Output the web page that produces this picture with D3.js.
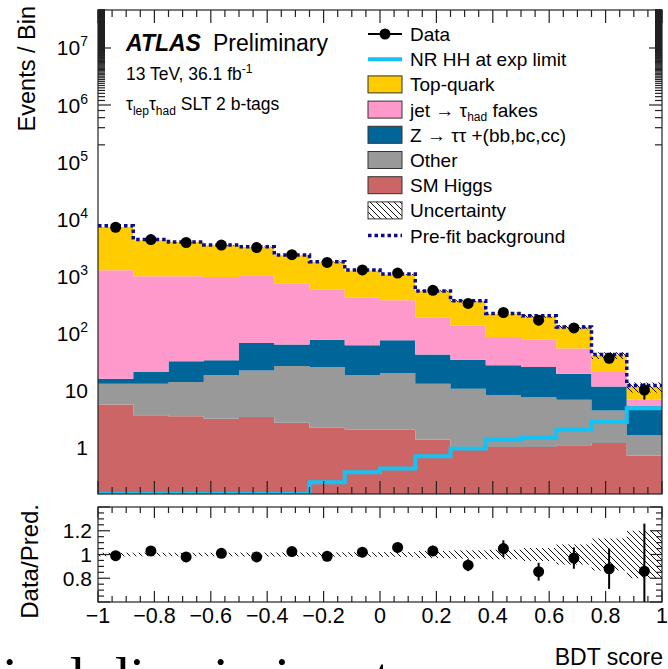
<!DOCTYPE html>
<html>
<head>
<meta charset="utf-8">
<script src="https://cdn.jsdelivr.net/npm/d3@7"></script>
<style>
body { margin: 0; background: #fff; }
svg { display: block; font-family: "Liberation Sans", Arial, Helvetica, sans-serif; }
</style>
</head>
<body>
<div class="chart"></div>
<script>
// bin edges of the BDT score histogram
const binEdges = [-1, -0.875, -0.75, -0.625, -0.5, -0.375, -0.25, -0.125, 0, 0.125, 0.25, 0.375, 0.5, 0.625, 0.75, 0.875, 1]

// backgrounds (stacked, bottom first)
const smHiggs = [5.6, 3.6, 3.45, 3.14, 3.36, 2.67, 2.18, 2.01, 2.01, 1.35, 1.03, 1.0, 1.0, 1.07, 1.18, 0.71]
const other = [7.3, 9.3, 10.4, 15.0, 18.7, 23.7, 23.1, 16.1, 17.9, 11.5, 9.5, 7.1, 6.5, 5.7, 3.2, 0.9]
const zttHF = [2.9, 7.8, 18.0, 15.0, 44.7, 36.8, 51.1, 42.7, 54.4, 29.3, 23.5, 19.0, 17.8, 12.6, 7.2, 3.6]
const fakes = [1243, 965, 954, 927, 961, 670, 499, 356, 300, 144, 102, 58, 51, 34, 9.1, 1.6]
const topQuark = [5985, 3240, 2962, 2491, 2200, 1574, 1187, 839, 686, 360, 228, 133, 120, 74, 19.9, 4.5]

const prefitBkg = [7600, 4350, 3950, 3500, 3250, 2330, 1780, 1270, 1080, 545, 370, 220, 200, 128, 42, 12]
const nrHH = [0.05, 0.06, 0.07, 0.08, 0.09, 0.1, 0.24, 0.36, 0.42, 0.69, 0.94, 1.35, 1.45, 2.0, 2.75, 4.8]
const bkgUnc = [0.015, 0.015, 0.015, 0.015, 0.016, 0.017, 0.018, 0.019, 0.02, 0.03, 0.035, 0.04, 0.055, 0.085, 0.135, 0.2]

const dataCounts = [7170, 4350, 3870, 3490, 3160, 2365, 1735, 1280, 1125, 562, 331, 229, 168, 123, 36, 10]
const dataErr = [85, 66, 62, 59, 56, 49, 42, 36, 34, 24, 18, 15, 13, 11, 6, 3.2]
const ratioVals = [0.99, 1.03, 0.98, 1.01, 0.98, 1.025, 0.985, 1.02, 1.06, 1.03, 0.91, 1.05, 0.855, 0.97, 0.88, 0.86]
const ratioErr = [0.012, 0.016, 0.016, 0.017, 0.018, 0.021, 0.024, 0.029, 0.032, 0.044, 0.05, 0.07, 0.075, 0.09, 0.17, 0.4]

// axes
const xTickValues = [-1, -0.8, -0.6, -0.4, -0.2, 0, 0.2, 0.4, 0.6, 0.8, 1]
const xTickLabels = ["\u22121", "\u22120.8", "\u22120.6", "\u22120.4", "\u22120.2", "0", "0.2", "0.4", "0.6", "0.8", "1"]
const yTickValues = [1, 10, 100, 1e3, 1e4, 1e5, 1e6, 1e7]
const yTickLabels = ["1", "10", "10^2", "10^3", "10^4", "10^5", "10^6", "10^7"]
const rTickValues = [0.8, 1, 1.2]
const rTickLabels = ["0.8", "1", "1.2"]

const colors = {
    smHiggs: "#cc6666",
    other: "#999999",
    ztt: "#006699",
    fakes: "#ff99cc",
    top: "#ffcc00",
    nrHH: "#12c3f3",
    prefit: "#0b0b8e"
}

let svg = d3.select(".chart")
    .append("svg")
    .attr("width", 668)
    .attr("height", 669)

let main = { left: 98, right: 662, top: 10, bottom: 494 }
let rat = { top: 507, bottom: 602 }

//scales
let x = d3.scaleLinear().domain([-1, 1]).range([main.left, main.right])
let y = d3.scaleLog().domain([0.15, 4.64e7]).range([main.bottom, main.top]).clamp(true)
let yr = d3.scaleLinear().domain([0.6, 1.4]).range([rat.bottom, rat.top])

let defs = svg.append("defs")
defs.append("clipPath").attr("id", "clipMain")
    .append("rect").attr("x", main.left).attr("y", main.top)
    .attr("width", main.right - main.left).attr("height", main.bottom - main.top)
defs.append("clipPath").attr("id", "clipRatio")
    .append("rect").attr("x", main.left).attr("y", rat.top)
    .attr("width", main.right - main.left).attr("height", rat.bottom - rat.top)
defs.append("pattern").attr("id", "hatch")
    .attr("patternUnits", "userSpaceOnUse").attr("width", 6).attr("height", 6)
    .append("path").attr("d", "M-1,-1 L7,7 M-1,5 L1,7 M5,-1 L7,1")
    .attr("stroke", "#111").attr("stroke-width", 1)

let bins = binEdges.slice(0, -1).map((lo, i) => ({
    lo: lo, hi: binEdges[i + 1], mid: (lo + binEdges[i + 1]) / 2,
    smHiggs: smHiggs[i], other: other[i], ztt: zttHF[i], fakes: fakes[i], top: topQuark[i]
}))
let keys = ["smHiggs", "other", "ztt", "fakes", "top"]
let series = d3.stack().keys(keys)(bins)
let totals = bins.map((b, i) => series[series.length - 1][i][1])

let gMain = svg.append("g").attr("clip-path", "url(#clipMain)")

// stacked histogram
let area = d3.area()
    .x(p => x(p.x))
    .y0(p => p.y0 > 0 ? y(p.y0) : main.bottom)
    .y1(p => y(p.y1))

series.forEach(s => {
    let pts = s.flatMap((d, i) => [
        { x: bins[i].lo, y0: d[0], y1: d[1] },
        { x: bins[i].hi, y0: d[0], y1: d[1] }
    ])
    gMain.append("path")
        .attr("d", area(pts))
        .attr("fill", colors[s.key])
})

// uncertainty band on the total
gMain.selectAll(".unc")
    .data(bins)
    .enter().append("rect")
    .attr("x", d => x(d.lo))
    .attr("width", d => x(d.hi) - x(d.lo))
    .attr("y", (d, i) => y(totals[i] * (1 + bkgUnc[i])))
    .attr("height", (d, i) => y(totals[i] * (1 - bkgUnc[i])) - y(totals[i] * (1 + bkgUnc[i])))
    .attr("fill", "url(#hatch)")

let stepLine = d3.line().x(p => x(p.x)).y(p => y(p.v))
let steps = vals => bins.flatMap((b, i) => [{ x: b.lo, v: vals[i] }, { x: b.hi, v: vals[i] }])

// NR HH signal
gMain.append("path")
    .attr("d", stepLine(steps(nrHH)))
    .attr("fill", "none")
    .attr("stroke", colors.nrHH)
    .attr("stroke-width", 4)

// pre-fit background
gMain.append("path")
    .attr("d", stepLine(steps(prefitBkg)))
    .attr("fill", "none")
    .attr("stroke", colors.prefit)
    .attr("stroke-width", 3.5)
    .attr("stroke-dasharray", "3.5,3")

// data
gMain.selectAll(".derr")
    .data(bins)
    .enter().append("line")
    .attr("x1", d => x(d.mid)).attr("x2", d => x(d.mid))
    .attr("y1", (d, i) => y(dataCounts[i] + dataErr[i]))
    .attr("y2", (d, i) => y(dataCounts[i] - dataErr[i]))
    .attr("stroke", "#000").attr("stroke-width", 2)
gMain.selectAll(".dpt")
    .data(bins)
    .enter().append("circle")
    .attr("cx", d => x(d.mid))
    .attr("cy", (d, i) => y(dataCounts[i]))
    .attr("r", 5.5)
    .attr("fill", "#000")

// ratio panel
let gRat = svg.append("g").attr("clip-path", "url(#clipRatio)")
gRat.selectAll(".runc")
    .data(bins)
    .enter().append("rect")
    .attr("x", d => x(d.lo))
    .attr("width", d => x(d.hi) - x(d.lo))
    .attr("y", (d, i) => yr(1 + bkgUnc[i]))
    .attr("height", (d, i) => yr(1 - bkgUnc[i]) - yr(1 + bkgUnc[i]))
    .attr("fill", "url(#hatch)")
gRat.selectAll(".rerr")
    .data(bins)
    .enter().append("line")
    .attr("x1", d => x(d.mid)).attr("x2", d => x(d.mid))
    .attr("y1", (d, i) => yr(ratioVals[i] + ratioErr[i]))
    .attr("y2", (d, i) => yr(ratioVals[i] - ratioErr[i]))
    .attr("stroke", "#000").attr("stroke-width", 2)
gRat.selectAll(".rpt")
    .data(bins)
    .enter().append("circle")
    .attr("cx", d => x(d.mid))
    .attr("cy", (d, i) => yr(ratioVals[i]))
    .attr("r", 5.5)
    .attr("fill", "#000")

// frames and ROOT style ticks
let axes = svg.append("g").attr("stroke", "#222").attr("stroke-width", 1.2)

function xTicks(top, bottom, major, minor) {
    x.ticks(40).forEach(t => {
        let isMajor = xTickValues.some(v => Math.abs(v - t) < 1e-6)
        let len = isMajor ? major : minor
        axes.append("line").attr("x1", x(t)).attr("x2", x(t)).attr("y1", bottom).attr("y2", bottom - len)
        axes.append("line").attr("x1", x(t)).attr("x2", x(t)).attr("y1", top).attr("y2", top + len)
    })
}
function yTicks(scale, ticks, majors, major, minor) {
    ticks.forEach(t => {
        let isMajor = majors.some(v => Math.abs(v - t) / t < 1e-6)
        let len = isMajor ? major : minor
        let py = scale(t)
        axes.append("line").attr("x1", main.left).attr("x2", main.left + len).attr("y1", py).attr("y2", py)
        axes.append("line").attr("x1", main.right).attr("x2", main.right - len).attr("y1", py).attr("y2", py)
    })
}

xTicks(main.top, main.bottom, 13, 7)
yTicks(y, y.ticks(200).filter(t => t >= 0.15 && t <= 4.64e7), yTickValues, 13, 7)
xTicks(rat.top, rat.bottom, 11, 6)
yTicks(yr, yr.ticks(16), [0.6, 0.8, 1, 1.2, 1.4], 12, 6)

axes.append("rect").attr("x", main.left).attr("y", main.top)
    .attr("width", main.right - main.left).attr("height", main.bottom - main.top).attr("fill", "none")
axes.append("rect").attr("x", main.left).attr("y", rat.top)
    .attr("width", main.right - main.left).attr("height", rat.bottom - rat.top).attr("fill", "none")

// tick labels
let lab = svg.append("g").attr("fill", "#000")
yTickValues.forEach((v, i) => {
    let parts = yTickLabels[i].split("^")
    let t = lab.append("text")
        .attr("x", 88).attr("y", y(v) + 7.5)
        .attr("text-anchor", "end")
        .attr("font-size", 21)
    t.append("tspan").text(parts[0])
    if (parts[1]) t.append("tspan").attr("dy", -9).attr("font-size", 14).text(parts[1])
})
rTickValues.forEach((v, i) => {
    lab.append("text")
        .attr("x", 92).attr("y", yr(v) + 7.5)
        .attr("text-anchor", "end")
        .attr("font-size", 21)
        .text(rTickLabels[i])
})
xTickValues.forEach((v, i) => {
    lab.append("text")
        .attr("x", x(v)).attr("y", 623)
        .attr("text-anchor", "middle")
        .attr("font-size", 21.5)
        .text(xTickLabels[i])
})

// axis titles
lab.append("text")
    .attr("transform", "translate(35,6) rotate(-90)")
    .attr("text-anchor", "end")
    .attr("font-size", 23.5)
    .text("Events / Bin")
lab.append("text")
    .attr("transform", "translate(38,504) rotate(-90)")
    .attr("text-anchor", "end")
    .attr("font-size", 24)
    .text("Data/Pred.")
lab.append("text")
    .attr("x", 663).attr("y", 665)
    .attr("text-anchor", "end")
    .attr("font-size", 23)
    .text("BDT score")

// ATLAS label
let atlas = lab.append("text").attr("x", 126).attr("y", 51).attr("font-size", 23)
atlas.append("tspan").attr("font-weight", "bold").attr("font-style", "italic").text("ATLAS")
atlas.append("tspan").attr("x", 213).text("Preliminary")
let lumi = lab.append("text").attr("x", 126).attr("y", 80).attr("font-size", 17.5)
lumi.append("tspan").text("13 TeV, 36.1 fb")
lumi.append("tspan").attr("dy", -7).attr("font-size", 12).text("-1")
let chan = lab.append("text").attr("x", 126).attr("y", 110).attr("font-size", 17.5)
chan.append("tspan").text("\u03c4")
chan.append("tspan").attr("dy", 5).attr("font-size", 12).text("lep")
chan.append("tspan").attr("dy", -5).text("\u03c4")
chan.append("tspan").attr("dy", 5).attr("font-size", 12).text("had")
chan.append("tspan").attr("dy", -5).text(" SLT 2 b-tags")

// legend
const legendLabels = ["Data", "NR HH at exp limit", "Top-quark", "jet \u2192 \u03c4_had fakes", "Z \u2192 \u03c4\u03c4 +(bb,bc,cc)", "Other", "SM Higgs", "Uncertainty", "Pre-fit background"]
const legendKinds = ["data", "nrHH", "top", "fakes", "ztt", "other", "smHiggs", "unc", "prefit"]

let leg = svg.append("g")
legendLabels.forEach((name, i) => {
    let cy = 34 + i * 25.2
    let kind = legendKinds[i]
    if (kind === "data") {
        leg.append("line").attr("x1", 368).attr("x2", 402).attr("y1", cy).attr("y2", cy)
            .attr("stroke", "#000").attr("stroke-width", 2)
        leg.append("circle").attr("cx", 385).attr("cy", cy).attr("r", 5.5).attr("fill", "#000")
    } else if (kind === "nrHH") {
        leg.append("line").attr("x1", 368).attr("x2", 402).attr("y1", cy).attr("y2", cy)
            .attr("stroke", colors.nrHH).attr("stroke-width", 4)
    } else if (kind === "prefit") {
        leg.append("line").attr("x1", 368).attr("x2", 402).attr("y1", cy).attr("y2", cy)
            .attr("stroke", colors.prefit).attr("stroke-width", 3.5).attr("stroke-dasharray", "3.5,3")
    } else {
        leg.append("rect").attr("x", 368).attr("y", cy - 8.5).attr("width", 34).attr("height", 17)
            .attr("fill", kind === "unc" ? "url(#hatch)" : colors[kind])
            .attr("stroke", "#333").attr("stroke-width", 1)
    }
    let t = leg.append("text").attr("x", 410).attr("y", cy + 7).attr("font-size", 19)
    let parts = name.split("_had")
    t.append("tspan").text(parts[0])
    if (parts.length > 1) {
        t.append("tspan").attr("dy", 4).attr("font-size", 12).text("had")
        t.append("tspan").attr("dy", -4).text(parts[1])
    }
})

// page text cut off under the figure (only the tops of tall letters show)
svg.append("text")
    .attr("x", -14).attr("y", 697)
    .attr("font-family", "'Liberation Serif', 'DejaVu Serif', serif")
    .attr("font-size", 58)
    .text("tical discriminant")
</script>
</body>
</html>
